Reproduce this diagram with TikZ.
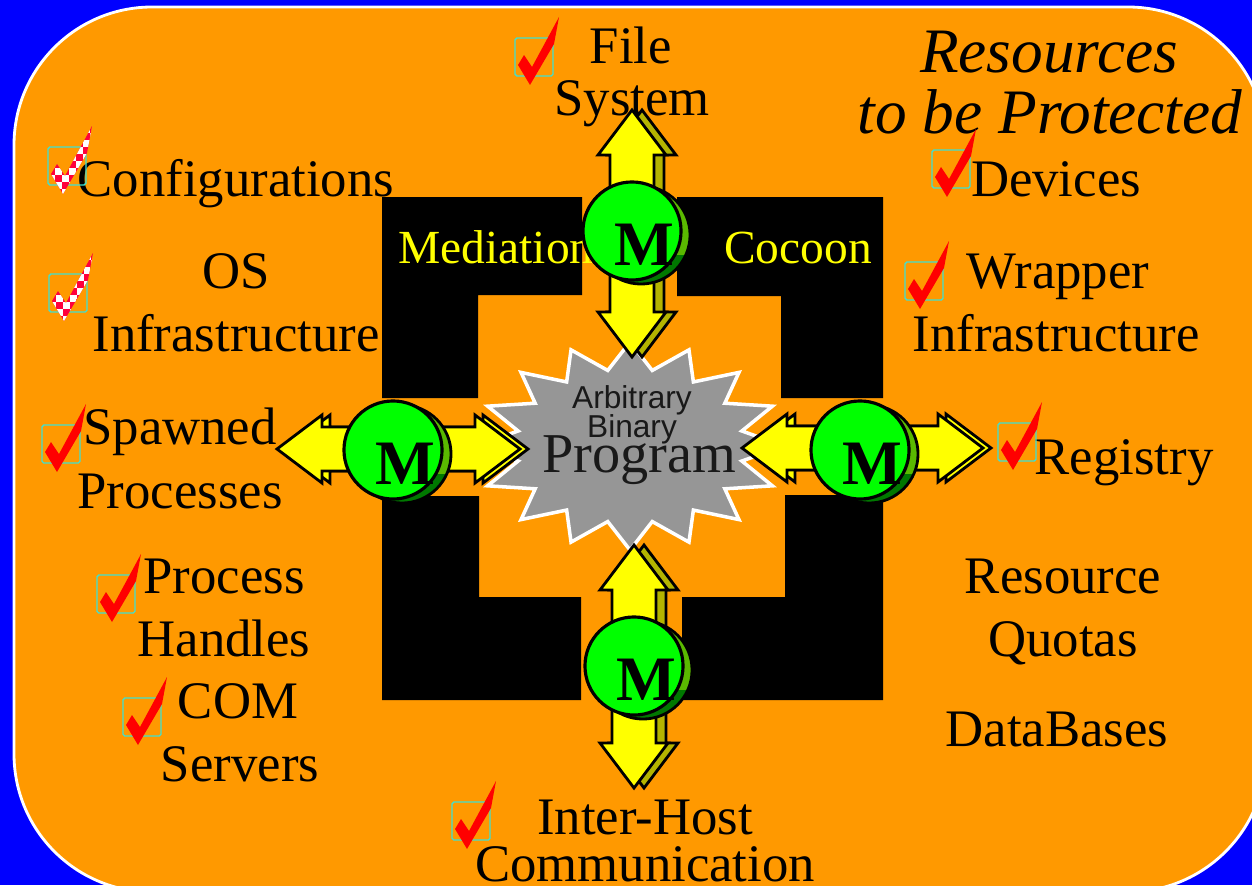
\documentclass[tikz,border=0pt]{standalone}
\usepackage{fontspec}
\setmainfont{Liberation Serif}
\newfontfamily\arialfont{Liberation Sans}
\usepackage{tikz}
\usetikzlibrary{calc}
\usepackage{xcolor}

\definecolor{bgblue}{RGB}{0,0,255}
\definecolor{panel}{RGB}{255,153,0}
\definecolor{arrowyellow}{RGB}{255,255,0}
\definecolor{arrowolive}{RGB}{180,180,0}
\definecolor{mgreen}{RGB}{0,255,0}
\definecolor{mshade}{RGB}{90,185,0}
\definecolor{mdark}{RGB}{0,120,0}
\definecolor{stargray}{RGB}{150,150,150}
\definecolor{tickred}{RGB}{255,0,0}
\definecolor{chkred}{RGB}{255,0,60}
\definecolor{tickcyan}{RGB}{64,224,208}

% double block arrow from apex #2 to apex #3, filled with #1
\newcommand{\dblarrow}[3]{%
  \coordinate (aA) at (#2);
  \coordinate (aB) at (#3);
  \coordinate (hA) at ($(aA)!0.45cm!(aB)$);
  \coordinate (hB) at ($(aB)!0.45cm!(aA)$);
  \draw[blockline, fill=#1] (aA) -- ($(hA)!0.34cm!90:(aB)$) -- ($(hA)!0.22cm!90:(aB)$)
    -- ($(hB)!0.22cm!-90:(aA)$) -- ($(hB)!0.34cm!-90:(aA)$) -- (aB)
    -- ($(hB)!0.34cm!90:(aA)$) -- ($(hB)!0.22cm!90:(aA)$)
    -- ($(hA)!0.22cm!-90:(aB)$) -- ($(hA)!0.34cm!-90:(aB)$) -- cycle;
}

% mediator disc: name, x, y
\newcommand{\meddisc}[3]{%
  \begin{scope}
    \clip ({#2+9},{#3+4}) circle (0.49cm);
    \fill[mshade] ({#2+9},{#3+4}) circle (0.49cm);
    \fill[mdark] ({#2-50},{#3+24}) rectangle ({#2+70},{#3+60});
  \end{scope}
  \draw[blockline] ({#2+9},{#3+4}) circle (0.49cm);
  \node[mdisc] (#1) at (#2,#3) {};
  \node[mletter] (#1m) at ({#2+12},{#3+34}) {M};
}

\tikzset{
  tick/.pic={
    \draw[tickbox] (0,0) rectangle (38,38);
    \fill[tickred] (3,27) -- (9,17) -- (17,29) -- (44,-21) -- (39,6) -- (15,47) -- cycle;
  },
  tickchk/.pic={
    \draw[tickbox] (0,0) rectangle (38,38);
    \begin{scope}
      \clip (3,27) -- (9,17) -- (17,29) -- (44,-21) -- (39,6) -- (15,47) -- cycle;
      \fill[chkred] (0,-24) rectangle (50,50);
      \foreach \i in {0,14,...,42}
        \foreach \j in {-28,-14,...,42} {
          \fill[white] (\i,\j) rectangle ++(7,7);
          \fill[white] (\i+7,\j+7) rectangle ++(7,7);
        }
    \end{scope}
  },
}

\begin{document}
\begin{tikzpicture}[x=0.01cm, y=-0.01cm,
    lbl/.style={font=\fontsize{15}{18}\selectfont, anchor=base, inner sep=0},
    ttl/.style={font=\fontsize{18}{20}\selectfont\itshape, anchor=base, inner sep=0},
    walltxt/.style={font=\fontsize{13.5}{16}\selectfont, text=arrowyellow, anchor=base, inner sep=0},
    startxt/.style={font=\arialfont\fontsize{9}{10}\selectfont, text=black!90, anchor=base, inner sep=0},
    blockline/.style={draw=black, line width=0.8pt, line join=miter},
    mdisc/.style={circle, minimum size=0.98cm, inner sep=0, fill=mgreen, draw=black, line width=0.9pt},
    mletter/.style={font=\fontsize{18}{18}\selectfont\bfseries, anchor=base, inner sep=0},
    tickbox/.style={draw=tickcyan, line width=0.4pt, rounded corners=0.5pt},
    starline/.style={draw=white, fill=stargray, line width=1pt}]

  \useasboundingbox (0,0) rectangle (1252,885);
  \clip (0,0) rectangle (1252,885);
  \fill[bgblue] (0,0) rectangle (1252,885);
  \draw[white, fill=panel, line width=0.8pt, rounded corners=1.38cm] (14,7) rectangle (1266,892);

  % cocoon walls
  \fill (382,197) -- (582,197) -- (582,295) -- (478,295) -- (478,398) -- (382,398) -- cycle;
  \fill (677,197) -- (883,197) -- (883,398) -- (781,398) -- (781,296) -- (677,296) -- cycle;
  \fill (382,496) -- (479,496) -- (479,597) -- (581,597) -- (581,700) -- (382,700) -- cycle;
  \fill (785,495) -- (883,495) -- (883,700) -- (682,700) -- (682,597) -- (785,597) -- cycle;
  \node[walltxt] (med) at (496,263) {Mediation};
  \node[walltxt] (coc) at (798,263) {Cocoon};

  % the program
  \draw[starline, shift={(630,446)}] (0:1.54cm and 1.04cm)
    \foreach \a in {0,22.5,...,337.5} { -- (\a:1.54cm and 1.04cm) -- ({\a+11.25}:1.14cm and 0.77cm) } -- cycle;
  \node[startxt] (arb) at (632,408) {Arbitrary};
  \node[startxt] (bin) at (632,437) {Binary};
  \node[lbl, font=\fontsize{16}{16}\selectfont, text=black!90] (prg) at (639,472) {Program};

  % resources
  \node[ttl] (res) at (1049,73) {Resources};
  \node[ttl] (prot) at (1050,134) {to be Protected};
  \node[lbl] (file) at (631,64) {File};
  \node[lbl] (sys) at (632,116) {System};
  \node[lbl] (cfg) at (236,196) {Configurations};
  \node[lbl] (os) at (236,288) {OS};
  \node[lbl] (osinf) at (236,351) {Infrastructure};
  \node[lbl] (spw) at (180,444) {Spawned};
  \node[lbl] (spwp) at (180,508) {Processes};
  \node[lbl] (proc) at (224,593) {Process};
  \node[lbl] (hnd) at (224,656) {Handles};
  \node[lbl] (com) at (238,718) {COM};
  \node[lbl] (srv) at (240,781) {Servers};
  \node[lbl] (ihost) at (645,834) {Inter-Host};
  \node[lbl] (comm) at (645,881) {Communication};
  \node[lbl] (dev) at (1056,196) {Devices};
  \node[lbl] (wrp) at (1058,288) {Wrapper};
  \node[lbl] (wrpinf) at (1056,351) {Infrastructure};
  \node[lbl] (reg) at (1124,474) {Registry};
  \node[lbl] (rsrc) at (1063,593) {Resource};
  \node[lbl] (quo) at (1063,656) {Quotas};
  \node[lbl] (db) at (1057,746) {DataBases};

  \pic at (515,38) {tick};
  \pic at (48,147) {tickchk};
  \pic at (49,274) {tickchk};
  \pic at (42,425) {tick};
  \pic at (97,575) {tick};
  \pic at (123,698) {tick};
  \pic at (452,802) {tick};
  \pic at (932,150) {tick};
  \pic at (905,262) {tick};
  \pic at (998,423) {tick};

  % mediating arrows
  \begin{scope}[xshift=0.1cm] \dblarrow{arrowolive}{632,110}{632,357} \end{scope}
  \dblarrow{arrowyellow}{632,110}{632,357}
  \begin{scope}[xshift=0.1cm] \dblarrow{arrowolive}{634,545}{634,788} \end{scope}
  \dblarrow{arrowyellow}{634,545}{634,788}
  \begin{scope}[xshift=0.08cm] \dblarrow{arrowyellow}{277,449}{520,449} \end{scope}
  \dblarrow{arrowyellow}{277,449}{520,449}
  \begin{scope}[xshift=0.08cm] \dblarrow{arrowyellow}{742,448}{983,448} \end{scope}
  \dblarrow{arrowyellow}{742,448}{983,448}

  \meddisc{mtop}{632}{231}
  \meddisc{mleft}{393}{450}
  \meddisc{mright}{860}{450}
  \meddisc{mbot}{634}{666}
\end{tikzpicture}
\end{document}
